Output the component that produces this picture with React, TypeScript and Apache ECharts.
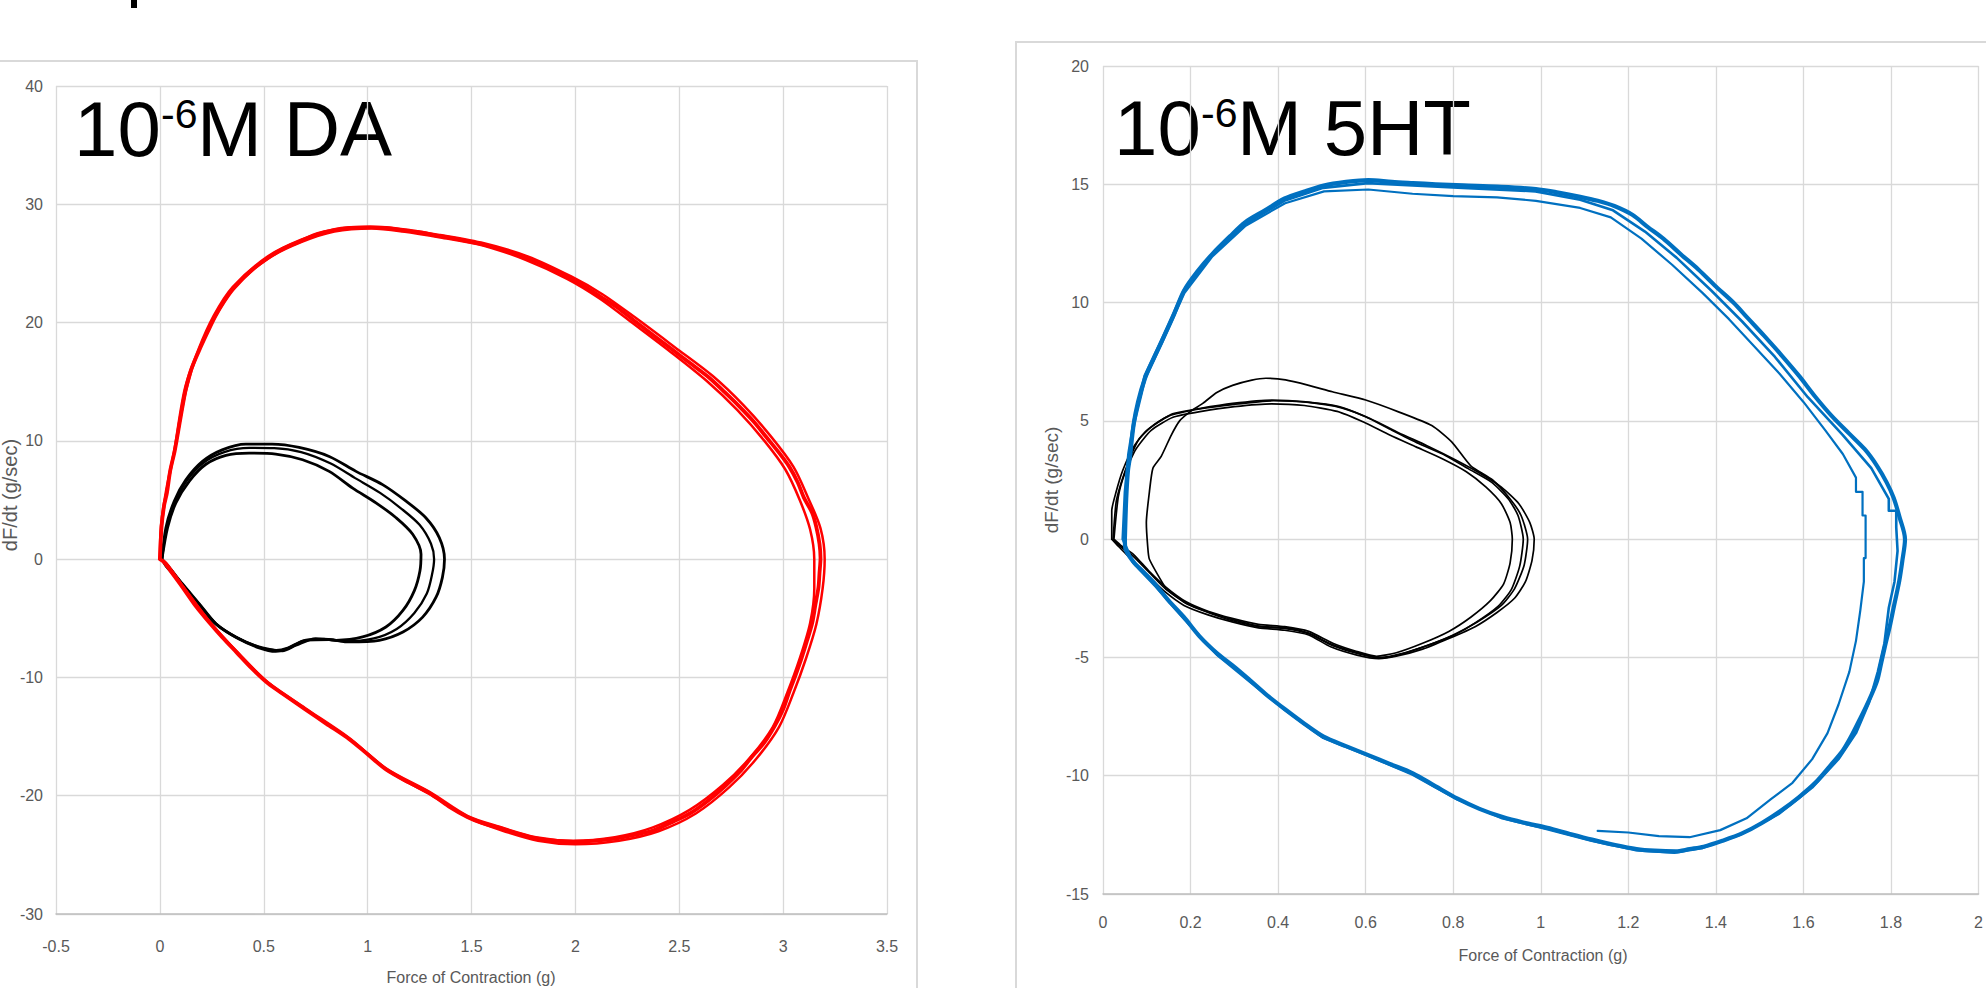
import React, { useEffect, useRef } from "react";
import * as echarts from "echarts";

// ---------- Left chart (10^-6 M DA) ----------
const leftXTicks = { min: -0.5, max: 3.5, interval: 0.5 };
const leftYTicks = { min: -30, max: 40, interval: 10 };

const daRed1 = [
  [0, 0], [0.008, 2.7], [0.02, 4.5], [0.034, 5.6], [0.05, 7.5], [0.072, 9.2], [0.1, 12], [0.124, 14.3], [0.15, 16], [0.188, 17.6],
  [0.23, 19.2], [0.266, 20.5], [0.31, 21.8], [0.356, 22.9], [0.44, 24.4], [0.524, 25.5], [0.6, 26.3], [0.679, 26.9], [0.76, 27.5],
  [0.834, 27.8], [0.92, 28.0], [1.014, 28.05], [1.09, 28.0], [1.169, 27.8], [1.26, 27.6], [1.35, 27.3], [1.45, 27.0], [1.556, 26.6],
  [1.66, 26.1], [1.76, 25.5], [1.87, 24.7], [1.97, 23.8], [2.05, 23.0], [2.12, 22.2], [2.2, 21.3], [2.28, 20.2], [2.37, 19.0],
  [2.46, 17.8], [2.55, 16.6], [2.64, 15.4], [2.72, 14.1], [2.79, 12.9], [2.86, 11.6], [2.92, 10.3], [2.98, 9.0], [3.03, 7.8],
  [3.07, 6.5], [3.1, 5.2], [3.14, 3.9], [3.16, 2.7], [3.175, 1.3], [3.18, 0.1], [3.175, -1.2], [3.17, -2.4], [3.155, -3.9],
  [3.14, -5.4], [3.115, -6.9], [3.09, -8.3], [3.06, -9.8], [3.03, -11.2], [3.0, -12.7], [2.96, -14.1], [2.91, -15.5], [2.85, -16.7],
  [2.79, -18.0], [2.72, -19.2], [2.64, -20.4], [2.56, -21.4], [2.47, -22.2], [2.38, -22.9], [2.29, -23.3], [2.2, -23.6], [2.1, -23.8],
  [1.99, -23.9], [1.9, -23.8], [1.81, -23.6], [1.72, -23.2], [1.63, -22.7], [1.55, -22.3], [1.48, -21.8], [1.39, -20.9], [1.3, -19.8],
  [1.2, -18.9], [1.09, -17.8], [1.0, -16.5], [0.91, -15.2], [0.8, -13.9], [0.7, -12.7], [0.61, -11.6], [0.52, -10.5], [0.44, -9.2],
  [0.37, -7.9], [0.3, -6.6], [0.24, -5.4], [0.17, -3.9], [0.11, -2.4], [0.06, -1.2], [0.02, -0.26], [0, 0],
];
const daRed2 = [
  [0, 0], [0.01, 3], [0.035, 6], [0.075, 9.5], [0.125, 14.2], [0.19, 17.8], [0.27, 20.6], [0.36, 23], [0.52, 25.4], [0.68, 26.8],
  [0.84, 27.7], [1.02, 27.95], [1.17, 27.7], [1.35, 27.2], [1.56, 26.5], [1.76, 25.3], [1.96, 23.7], [2.12, 22.0], [2.28, 19.9],
  [2.46, 17.5], [2.63, 15.1], [2.78, 12.6], [2.91, 10.0], [3.01, 7.6], [3.08, 5.0], [3.13, 2.5], [3.15, 0], [3.15, -2.5],
  [3.13, -5.4], [3.08, -8.4], [3.02, -11.3], [2.95, -14.2], [2.84, -16.8], [2.71, -19.1], [2.55, -21.2], [2.37, -22.7], [2.19, -23.5],
  [1.99, -23.8], [1.81, -23.5], [1.63, -22.6], [1.48, -21.7], [1.3, -19.7], [1.09, -17.7], [0.91, -15.1], [0.7, -12.6], [0.52, -10.4],
  [0.37, -7.8], [0.24, -5.3], [0.11, -2.3], [0.02, -0.2], [0, 0],
];
const daRed3 = [
  [0, 0], [0.005, 2.8], [0.03, 5.8], [0.07, 9.3], [0.12, 14.4], [0.185, 17.7], [0.26, 20.6], [0.35, 23.0], [0.52, 25.6], [0.68, 27.0],
  [0.84, 27.9], [1.01, 28.1], [1.17, 27.9], [1.35, 27.4], [1.56, 26.7], [1.77, 25.6], [1.98, 23.9], [2.13, 22.4], [2.29, 20.4],
  [2.48, 17.9], [2.66, 15.5], [2.81, 13.0], [2.94, 10.4], [3.05, 7.8], [3.12, 5.2], [3.18, 2.6], [3.2, 0], [3.19, -2.5],
  [3.16, -5.5], [3.11, -8.4], [3.05, -11.3], [2.98, -14.2], [2.87, -16.9], [2.74, -19.3], [2.58, -21.5], [2.4, -23.0], [2.21, -23.8],
  [2.0, -24.1], [1.82, -23.8], [1.64, -22.9], [1.49, -21.9], [1.31, -20.0], [1.1, -17.9], [0.92, -15.3], [0.71, -12.8], [0.53, -10.6],
  [0.38, -8.0], [0.25, -5.5], [0.12, -2.5], [0.03, -0.3], [0, 0],
];

const daCtl1 = [
  [0.01, 0], [0.029, 2.66], [0.069, 4.9], [0.125, 6.7], [0.205, 8.26], [0.3, 9.24], [0.414, 9.72], [0.54, 9.72], [0.67, 9.44],
  [0.815, 8.68], [0.944, 7.42], [1.072, 6.3], [1.185, 4.9], [1.28, 3.5], [1.345, 1.82], [1.37, 0], [1.36, -1.54], [1.33, -3.2],
  [1.265, -4.9], [1.17, -6.16], [1.056, -6.86], [0.91, -7.0], [0.815, -6.8], [0.703, -6.85], [0.623, -7.5], [0.558, -7.8],
  [0.478, -7.5], [0.366, -6.6], [0.27, -5.46], [0.19, -3.78], [0.109, -2.1], [0.045, -0.7], [0.01, 0],
];
const daCtl2 = [
  [0.01, 0], [0.032, 2.6], [0.072, 4.8], [0.13, 6.65], [0.21, 8.15], [0.31, 9.05], [0.43, 9.4], [0.55, 9.38], [0.68, 9.05],
  [0.82, 8.1], [0.94, 6.85], [1.06, 5.6], [1.16, 4.3], [1.25, 2.9], [1.305, 1.3], [1.32, 0], [1.31, -1.3], [1.285, -2.9],
  [1.225, -4.55], [1.14, -5.9], [1.03, -6.7], [0.89, -6.95], [0.79, -6.75], [0.69, -6.9], [0.615, -7.5], [0.56, -7.7],
  [0.48, -7.45], [0.37, -6.6], [0.27, -5.45], [0.185, -3.7], [0.1, -1.95], [0.04, -0.6], [0.01, 0],
];
const daCtl3 = [
  [0.01, 0], [0.037, 2.66], [0.077, 4.76], [0.141, 6.58], [0.22, 8.0], [0.318, 8.77], [0.43, 8.96], [0.558, 8.88], [0.687, 8.4],
  [0.815, 7.42], [0.928, 6.0], [1.04, 4.76], [1.137, 3.5], [1.217, 2.1], [1.257, 0.42], [1.252, -0.98], [1.225, -2.66],
  [1.17, -4.34], [1.088, -5.74], [0.976, -6.58], [0.848, -6.86], [0.75, -6.72], [0.655, -7.28], [0.59, -7.75], [0.494, -7.5],
  [0.382, -6.75], [0.27, -5.5], [0.173, -3.64], [0.093, -1.82], [0.029, -0.56], [0.01, 0],
];

// ---------- Right chart (10^-6 M 5HT) ----------
const rightXTicks = { min: 0, max: 2, interval: 0.2 };
const rightYTicks = { min: -15, max: 20, interval: 5 };

const htBlue1 = [
  [0.05, 0], [0.053, 1.7], [0.057, 2.9], [0.061, 3.4], [0.07, 4.85], [0.08, 5.8], [0.096, 6.8], [0.115, 7.6], [0.134, 8.35],
  [0.16, 9.4], [0.185, 10.5], [0.215, 11.3], [0.249, 12.04], [0.29, 12.8], [0.325, 13.4], [0.37, 13.9], [0.415, 14.4], [0.46, 14.7],
  [0.504, 14.95], [0.555, 15.1], [0.606, 15.18], [0.66, 15.1], [0.708, 15.05], [0.76, 15.0], [0.823, 14.95], [0.9, 14.9],
  [0.989, 14.8], [1.04, 14.65], [1.09, 14.47], [1.13, 14.3], [1.168, 14.08], [1.21, 13.7], [1.244, 13.2], [1.28, 12.7], [1.32, 12.04],
  [1.36, 11.4], [1.4, 10.68], [1.44, 10.0], [1.474, 9.32], [1.51, 8.6], [1.55, 7.77], [1.59, 6.9], [1.627, 6.02], [1.665, 5.2],
  [1.704, 4.47], [1.74, 3.8], [1.768, 3.1], [1.79, 2.4], [1.806, 1.75], [1.82, 0.9], [1.832, 0], [1.826, -0.9], [1.819, -1.75],
  [1.806, -2.9], [1.797, -3.7], [1.787, -4.47], [1.778, -5.2], [1.768, -6.0], [1.75, -6.8], [1.73, -7.57], [1.71, -8.3], [1.69, -8.93],
  [1.66, -9.6], [1.627, -10.3], [1.59, -10.9], [1.55, -11.46], [1.505, -12.0], [1.461, -12.43], [1.415, -12.75], [1.372, -13.0],
  [1.34, -13.1], [1.308, -13.2], [1.26, -13.17], [1.219, -13.1], [1.17, -12.93], [1.117, -12.7], [1.065, -12.45], [1.015, -12.2],
  [0.96, -11.98], [0.913, -11.75], [0.86, -11.4], [0.81, -10.97], [0.76, -10.45], [0.708, -9.9], [0.655, -9.5], [0.606, -9.13],
  [0.555, -8.75], [0.504, -8.35], [0.46, -7.8], [0.415, -7.18], [0.375, -6.6], [0.338, -6.0], [0.3, -5.4], [0.262, -4.85],
  [0.22, -4.1], [0.185, -3.3], [0.15, -2.6], [0.121, -1.94], [0.093, -1.4], [0.07, -0.97], [0.051, -0.39], [0.05, 0],
];
const htBlue2 = [
  [0.045, 0], [0.05, 2.0], [0.058, 3.6], [0.07, 5.0], [0.095, 6.9], [0.133, 8.4], [0.184, 10.5], [0.248, 12.0], [0.324, 13.3],
  [0.414, 14.3], [0.503, 14.85], [0.605, 15.05], [0.707, 14.95], [0.822, 14.85], [0.988, 14.7], [1.09, 14.35], [1.165, 13.9],
  [1.238, 13.0], [1.31, 11.9], [1.39, 10.5], [1.46, 9.2], [1.535, 7.7], [1.61, 6.0], [1.69, 4.4], [1.755, 3.0], [1.795, 1.7],
  [1.795, 1.2], [1.812, 1.2], [1.812, 0.5], [1.815, -0.5], [1.808, -1.8], [1.795, -2.9], [1.785, -4.4], [1.77, -5.6], [1.75, -6.9],
  [1.72, -8.2], [1.68, -9.3], [1.62, -10.5], [1.545, -11.6], [1.455, -12.5], [1.37, -13.05], [1.305, -13.25], [1.218, -13.15],
  [1.116, -12.75], [1.013, -12.25], [0.912, -11.8], [0.809, -11.0], [0.707, -9.95], [0.605, -9.15], [0.503, -8.4], [0.414, -7.2],
  [0.337, -6.05], [0.261, -4.9], [0.184, -3.35], [0.12, -2.0], [0.069, -1.0], [0.045, 0],
];
const htBlue3 = [
  [0.048, 0], [0.052, 1.8], [0.06, 3.5], [0.072, 4.9], [0.097, 6.8], [0.135, 8.3], [0.186, 10.4], [0.25, 11.95], [0.326, 13.25],
  [0.416, 14.2], [0.505, 14.7], [0.606, 14.78], [0.707, 14.6], [0.8, 14.5], [0.9, 14.45], [0.989, 14.3], [1.09, 14.0], [1.16, 13.6],
  [1.23, 12.7], [1.3, 11.6], [1.37, 10.4], [1.43, 9.3], [1.49, 8.1], [1.545, 7.0], [1.6, 5.8], [1.65, 4.6], [1.69, 3.6], [1.72, 2.6],
  [1.72, 2.0], [1.735, 2.0], [1.735, 1.0], [1.742, 1.0], [1.742, -0.8], [1.738, -0.8], [1.738, -1.8], [1.73, -3.0], [1.72, -4.3],
  [1.705, -5.6], [1.68, -7.0], [1.655, -8.2], [1.62, -9.3], [1.575, -10.3], [1.525, -11.0], [1.47, -11.8], [1.41, -12.3],
  [1.34, -12.6], [1.27, -12.55], [1.2, -12.4], [1.13, -12.33],
];

const htCtl1 = [
  [0.023, 0], [0.03, 1.56], [0.042, 2.4], [0.061, 3.4], [0.083, 4.25], [0.114, 4.8], [0.159, 5.3], [0.22, 5.52], [0.296, 5.74],
  [0.387, 5.88], [0.463, 5.8], [0.539, 5.6], [0.6, 5.17], [0.66, 4.6], [0.721, 4.04], [0.782, 3.54], [0.835, 2.97], [0.888, 2.4],
  [0.926, 1.7], [0.948, 1.0], [0.96, 0], [0.952, -1.13], [0.933, -2.12], [0.903, -2.83], [0.85, -3.54], [0.797, -4.1], [0.736, -4.53],
  [0.675, -4.89], [0.63, -5.03], [0.584, -4.82], [0.524, -4.46], [0.47, -3.97], [0.417, -3.75], [0.357, -3.68], [0.296, -3.4],
  [0.243, -3.1], [0.19, -2.7], [0.144, -2.12], [0.106, -1.42], [0.068, -0.71], [0.038, -0.28], [0.023, 0],
];
const htCtl2 = [
  [0.02, 0], [0.02, 1.2], [0.03, 2.0], [0.045, 2.9], [0.07, 3.9], [0.1, 4.6], [0.15, 5.2], [0.22, 5.5], [0.3, 5.7], [0.39, 5.85],
  [0.47, 5.78], [0.545, 5.55], [0.61, 5.1], [0.675, 4.5], [0.74, 3.95], [0.8, 3.4], [0.86, 2.8], [0.91, 2.2], [0.95, 1.5],
  [0.975, 0.7], [0.985, 0], [0.98, -0.9], [0.965, -1.8], [0.94, -2.5], [0.9, -3.1], [0.85, -3.7], [0.79, -4.2], [0.73, -4.65],
  [0.67, -4.95], [0.63, -5.05], [0.58, -4.9], [0.52, -4.55], [0.47, -4.05], [0.415, -3.85], [0.355, -3.75], [0.295, -3.5],
  [0.24, -3.2], [0.185, -2.8], [0.14, -2.2], [0.1, -1.5], [0.062, -0.8], [0.035, -0.3], [0.02, 0],
];
const htCtl3 = [
  [0.025, 0], [0.035, 1.8], [0.05, 2.8], [0.075, 3.8], [0.11, 4.6], [0.16, 5.15], [0.225, 5.4], [0.3, 5.6], [0.385, 5.72],
  [0.46, 5.65], [0.535, 5.4], [0.595, 4.95], [0.655, 4.4], [0.715, 3.9], [0.775, 3.4], [0.83, 2.85], [0.875, 2.2], [0.91, 1.5],
  [0.93, 0.7], [0.935, 0], [0.93, -1.0], [0.915, -1.9], [0.885, -2.6], [0.84, -3.3], [0.79, -3.9], [0.73, -4.4], [0.67, -4.8],
  [0.625, -4.95], [0.58, -4.75], [0.525, -4.4], [0.47, -3.9], [0.415, -3.7], [0.355, -3.6], [0.295, -3.35], [0.24, -3.05],
  [0.19, -2.65], [0.145, -2.05], [0.105, -1.35], [0.07, -0.65], [0.04, -0.25], [0.025, 0],
];
const htCtl4 = [
  [0.144, -2.1], [0.106, -0.85], [0.102, -0.28], [0.099, 0.7], [0.106, 2.0], [0.114, 3.0], [0.133, 3.5], [0.156, 4.4], [0.175, 5.0],
  [0.2, 5.4], [0.228, 5.74], [0.26, 6.2], [0.296, 6.5], [0.34, 6.72], [0.372, 6.8], [0.417, 6.73], [0.47, 6.5], [0.524, 6.23],
  [0.6, 5.88], [0.675, 5.38], [0.751, 4.8], [0.797, 4.1], [0.84, 3.1], [0.89, 2.5], [0.93, 1.7], [0.955, 1.0], [0.97, 0],
  [0.962, -1.1], [0.94, -2.1], [0.91, -2.8], [0.855, -3.5], [0.8, -4.05], [0.74, -4.5], [0.68, -4.85], [0.635, -5.0], [0.585, -4.85],
  [0.525, -4.5], [0.47, -4.0], [0.417, -3.78], [0.357, -3.7], [0.296, -3.45], [0.243, -3.12], [0.19, -2.72], [0.144, -2.1],
];

const xAxisTitle = "Force of Contraction (g)";
const yAxisTitle = "dF/dt (g/sec)";

const FONT = "'Liberation Sans', Arial, sans-serif";
const GRID = "#d9d9d9";
const LABEL = "#595959";

function line(data: number[][], color: string, width: number, idx: number, smooth: number | boolean = 0.3) {
  return {
    type: "line",
    data,
    xAxisIndex: idx,
    yAxisIndex: idx,
    showSymbol: false,
    symbol: "none",
    smooth,
    silent: true,
    lineStyle: { color, width, join: "round", cap: "round" },
  };
}

function xAxis(t: any, idx: number, margin: number) {
  return {
    type: "value",
    gridIndex: idx,
    min: t.min,
    max: t.max,
    interval: t.interval,
    axisLine: { show: true, onZero: false, lineStyle: { color: "#bfbfbf", width: 1.5 } },
    axisTick: { show: false },
    axisLabel: { color: LABEL, fontSize: 16, fontFamily: FONT, margin, showMinLabel: true, showMaxLabel: true },
    splitLine: { show: true, lineStyle: { color: GRID, width: 1.3 } },
  };
}
function yAxis(t: any, idx: number, margin: number) {
  return {
    type: "value",
    gridIndex: idx,
    min: t.min,
    max: t.max,
    interval: t.interval,
    axisLine: { show: false, onZero: false },
    axisTick: { show: false },
    axisLabel: { color: LABEL, fontSize: 16, fontFamily: FONT, margin },
    splitLine: { show: true, lineStyle: { color: GRID, width: 1.3 } },
  };
}

function title(x0: number, y: number, rest: string) {
  return [
    { type: "text", x: x0, y, style: { text: "10", fontSize: 78, fontFamily: FONT, fill: "#000", align: "left", verticalAlign: "middle" } },
    { type: "text", x: x0 + 87, y: y - 15, style: { text: "-6", fontSize: 41, fontFamily: FONT, fill: "#000", align: "left", verticalAlign: "middle" } },
    { type: "text", x: x0 + 123, y, style: { text: rest, fontSize: 78, fontFamily: FONT, fill: "#000", align: "left", verticalAlign: "middle" } },
  ];
}

export default function App() {
  const ref = useRef<HTMLDivElement>(null);
  useEffect(() => {
    if (!ref.current) return;
    const chart = echarts.init(ref.current, null, { renderer: "svg" });
    chart.setOption({
      animation: false,
      backgroundColor: "#ffffff",
      grid: [
        { left: 56, top: 86, width: 831, height: 828 },
        { left: 1103, top: 66, width: 880, height: 828 },
      ],
      xAxis: [xAxis(leftXTicks, 0, 24), xAxis(rightXTicks, 1, 20)],
      yAxis: [yAxis(leftYTicks, 0, 13), yAxis(rightYTicks, 1, 14)],
      series: [
        line(daCtl1, "#000000", 2.8, 0),
        line(daCtl2, "#000000", 2.3, 0),
        line(daCtl3, "#000000", 2.8, 0),
        line(daRed1, "#ff0000", 3.8, 0),
        line(daRed2, "#ff0000", 2.5, 0),
        line(daRed3, "#ff0000", 2.5, 0),
        line(htCtl1, "#000000", 1.7, 1, 0.2),
        line(htCtl2, "#000000", 1.7, 1, 0.2),
        line(htCtl3, "#000000", 1.7, 1, 0.2),
        line(htCtl4, "#000000", 1.7, 1, 0.2),
        line(htBlue1, "#0070c0", 4.2, 1),
        line(htBlue2, "#0070c0", 2.6, 1, false),
        line(htBlue3, "#0070c0", 2.2, 1, false),
      ],
      graphic: [
        { type: "rect", shape: { x: -5, y: 61, width: 922, height: 940 }, style: { fill: "none", stroke: GRID, lineWidth: 2 }, z: -10 },
        { type: "rect", shape: { x: 1016, y: 42, width: 1000, height: 1000 }, style: { fill: "none", stroke: GRID, lineWidth: 2 }, z: -10 },
        { type: "rect", shape: { x: 131, y: 0, width: 6, height: 8 }, style: { fill: "#000" } },
        ...title(74, 129, "M DA"),
        ...title(1114, 128, "M 5HT"),
        { type: "text", x: 471, y: 977, style: { text: xAxisTitle, fontSize: 16, fontFamily: FONT, fill: LABEL, align: "center", verticalAlign: "middle" } },
        { type: "text", x: 1543, y: 955, style: { text: xAxisTitle, fontSize: 16, fontFamily: FONT, fill: LABEL, align: "center", verticalAlign: "middle" } },
        { type: "text", x: 10, y: 495, rotation: Math.PI / 2, style: { text: yAxisTitle, fontSize: 20, fontFamily: FONT, fill: LABEL, align: "center", verticalAlign: "middle" } },
        { type: "text", x: 1051, y: 480, rotation: Math.PI / 2, style: { text: yAxisTitle, fontSize: 19, fontFamily: FONT, fill: LABEL, align: "center", verticalAlign: "middle" } },
      ],
    });
    return () => chart.dispose();
  }, []);
  return (
    <div
      ref={ref}
      style={{ position: "fixed", left: 0, top: 0, width: 1986, height: 988, background: "#fff" }}
    />
  );
}
